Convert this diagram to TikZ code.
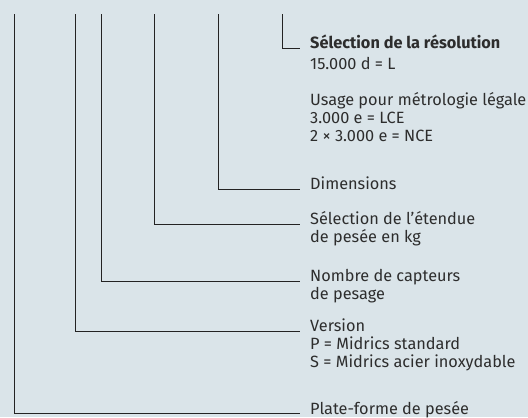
\documentclass[tikz,border=0pt]{standalone}
\usepackage{fontspec}
\setmainfont{Fira Sans}
\usetikzlibrary{positioning}
\definecolor{bgblue}{RGB}{218,228,233}
\definecolor{leadgray}{RGB}{35,35,35}
\definecolor{textgray}{RGB}{45,45,45}
\newcommand\stackedtext[1]{\begin{tabular}[t]{@{}l@{}}#1\end{tabular}}
\tikzset{
  lead/.style={draw=leadgray, line width=0.9bp},
  legend/.style={anchor=base west, inner sep=0pt, text=textgray,
    font=\fontsize{16.3bp}{18bp}\selectfont},
}
\begin{document}
\begin{tikzpicture}[x=1bp,y=-1bp]
  \useasboundingbox [fill=bgblue] (0,0) rectangle (528,417);
  % texts of the code
  \node [legend] (res) at (310,48) {\stackedtext{\textbf{Sélection de la résolution}\\[3bp]15.000 d = L\\[18bp]Usage pour métrologie légale\\3.000 e = LCE\\2 × 3.000 e = NCE}};
  \node [legend] (dim) at (310,189) {Dimensions};
  \node [legend] (range) at (310,224) {\stackedtext{Sélection de l'étendue\\de pesée en kg}};
  \node [legend] (cells) at (310,281) {\stackedtext{Nombre de capteurs\\de pesage}};
  \node [legend] (ver) at (310,331) {\stackedtext{Version\\P = Midrics standard\\S = Midrics acier inoxydable}};
  \node [legend] (plat) at (310,414) {Plate-forme de pesée};
  % leaders from the top
  \draw [lead] (282,14) |- ([xshift=-10bp]res.base west);
  \draw [lead] (218,14) |- ([xshift=-10bp]dim.base west);
  \draw [lead] (154,14) |- ([xshift=-10bp]range.base west);
  \draw [lead] (101.5,14) |- ([xshift=-10bp]cells.base west);
  \draw [lead] (75,14) |- ([xshift=-10bp]ver.base west);
  \draw [lead] (14.5,14) |- ([xshift=-10bp,yshift=1bp]plat.base west);
\end{tikzpicture}
\end{document}
